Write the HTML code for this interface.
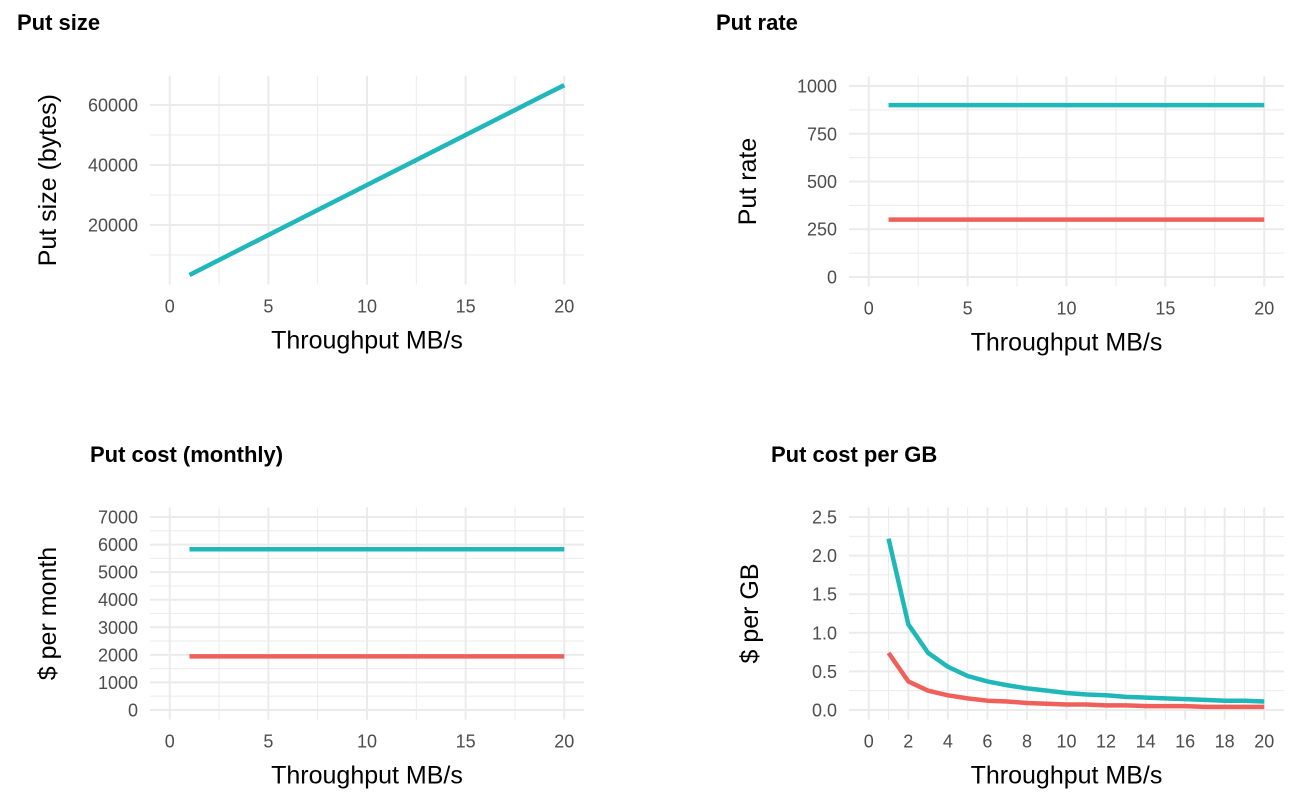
<!DOCTYPE html>
<html><head><meta charset="utf-8"><style>
body{margin:0;background:#fff;}
svg{display:block;font-family:"Liberation Sans",Arial,sans-serif;}
</style></head><body>
<svg id="c" width="1302" height="805"></svg>
<script>
const xs = [1,2,3,4,5,6,7,8,9,10,11,12,13,14,15,16,17,18,19,20];
const putSize = [3330,6660,10000,13330,16660,20000,23330,26660,30000,33330,36660,40000,43330,46660,50000,53330,56660,60000,63330,66600];
const rateTeal = [900,900,900,900,900,900,900,900,900,900,900,900,900,900,900,900,900,900,900,900];
const rateRed = [300,300,300,300,300,300,300,300,300,300,300,300,300,300,300,300,300,300,300,300];
const costTeal = [5830,5830,5830,5830,5830,5830,5830,5830,5830,5830,5830,5830,5830,5830,5830,5830,5830,5830,5830,5830];
const costRed = [1944,1944,1944,1944,1944,1944,1944,1944,1944,1944,1944,1944,1944,1944,1944,1944,1944,1944,1944,1944];
const gbTeal = [2.22,1.11,0.74,0.56,0.44,0.37,0.32,0.28,0.25,0.22,0.20,0.19,0.17,0.16,0.15,0.14,0.13,0.12,0.12,0.11];
const gbRed = [0.74,0.37,0.25,0.19,0.15,0.12,0.11,0.09,0.08,0.07,0.07,0.06,0.06,0.05,0.05,0.05,0.04,0.04,0.04,0.04];
const TEAL="#1fb7ba", RED="#f0605a";
const svg=document.getElementById('c');
const NS="http://www.w3.org/2000/svg";
function mk(t,a,p){const e=document.createElementNS(NS,t);for(const k in a)e.setAttribute(k,a[k]);(p||svg).appendChild(e);return e;}
function panel(o){
  const g=mk('g',{});
  
  
  const X=v=>o.x0+(v-o.xd[0])/(o.xd[1]-o.xd[0])*(o.x1-o.x0);
  const Y=v=>o.y1-(v-o.yd[0])/(o.yd[1]-o.yd[0])*(o.y1-o.y0);
  o.xminor.forEach(v=>mk('line',{x1:X(v),x2:X(v),y1:o.y0,y2:o.y1,stroke:'#ebebeb','stroke-width':1},g));
  o.yminor.forEach(v=>mk('line',{x1:o.x0,x2:o.x1,y1:Y(v),y2:Y(v),stroke:'#ebebeb','stroke-width':1},g));
  o.xticks.forEach(v=>{mk('line',{x1:X(v),x2:X(v),y1:o.y0,y2:o.y1,stroke:'#ebebeb','stroke-width':2},g);
    const t=mk('text',{x:X(v),y:o.y1+28,'text-anchor':'middle','font-size':18,fill:'#4d4d4d'},g);t.textContent=v;
    });
  o.yticks.forEach((v,i)=>{mk('line',{x1:o.x0,x2:o.x1,y1:Y(v),y2:Y(v),stroke:'#ebebeb','stroke-width':2},g);
    const t=mk('text',{x:o.x0-12,y:Y(v)+6.5,'text-anchor':'end','font-size':18,fill:'#4d4d4d'},g);t.textContent=o.ylabels[i];
    });
  o.series.forEach(s=>{
    const p=mk('polyline',{points:xs.map((x,i)=>X(x)+','+Y(s.v[i])).join(' '),fill:'none',stroke:s.c,'stroke-width':4.5,'stroke-linejoin':'round'},g);
    });
  let t=mk('text',{x:o.tx,y:o.ty,'font-size':22,'font-weight':'bold',fill:'#000'},g);t.textContent=o.title;
  
  t=mk('text',{x:(o.x0+o.x1)/2,y:o.y1+64,'text-anchor':'middle','font-size':25,fill:'#000'},g);t.textContent='Throughput MB/s';
  
  const cy=(o.y0+o.y1)/2;
  t=mk('text',{x:o.ytx,y:cy,'text-anchor':'middle','font-size':25,fill:'#000',transform:`rotate(-90 ${o.ytx} ${cy})`},g);t.textContent=o.ytitle;
  
}
const xMaj=[0,5,10,15,20], xMin=[2.5,7.5,12.5,17.5];
panel({name:'put-size-panel',x0:150,x1:584,y0:75.7,y1:284.6,xd:[-1,21],yd:[135,69765],xticks:xMaj,xminor:xMin,
  yticks:[20000,40000,60000],ylabels:['20000','40000','60000'],yminor:[10000,30000,50000],
  series:[{v:putSize,c:TEAL,n:'put-size-line'}],title:'Put size',tx:17,ty:30,ytitle:'Put size (bytes)',ytx:56});
panel({name:'put-rate-panel',x0:849,x1:1284,y0:76.5,y1:286.5,xd:[-1,21],yd:[-50,1050],xticks:xMaj,xminor:xMin,
  yticks:[0,250,500,750,1000],ylabels:['0','250','500','750','1000'],yminor:[125,375,625,875],
  series:[{v:rateTeal,c:TEAL,n:'rate-teal-line'},{v:rateRed,c:RED,n:'rate-red-line'}],title:'Put rate',tx:716,ty:30,ytitle:'Put rate',ytx:756});
panel({name:'put-cost-panel',x0:150,x1:584,y0:507.4,y1:719.6,xd:[-1,21],yd:[-350,7350],xticks:xMaj,xminor:xMin,
  yticks:[0,1000,2000,3000,4000,5000,6000,7000],ylabels:['0','1000','2000','3000','4000','5000','6000','7000'],yminor:[500,1500,2500,3500,4500,5500,6500],
  series:[{v:costTeal,c:TEAL,n:'cost-teal-line'},{v:costRed,c:RED,n:'cost-red-line'}],title:'Put cost (monthly)',tx:90,ty:462,ytitle:'$ per month',ytx:56});
panel({name:'put-cost-per-gb-panel',x0:849,x1:1284,y0:507.4,y1:719.6,xd:[-1,21],yd:[-0.125,2.625],
  xticks:[0,2,4,6,8,10,12,14,16,18,20],xminor:[1,3,5,7,9,11,13,15,17,19],
  yticks:[0,0.5,1,1.5,2,2.5],ylabels:['0.0','0.5','1.0','1.5','2.0','2.5'],yminor:[0.25,0.75,1.25,1.75,2.25],
  series:[{v:gbTeal,c:TEAL,n:'gb-teal-line'},{v:gbRed,c:RED,n:'gb-red-line'}],title:'Put cost per GB',tx:771,ty:462,ytitle:'$ per GB',ytx:758});
</script>
</body></html>
